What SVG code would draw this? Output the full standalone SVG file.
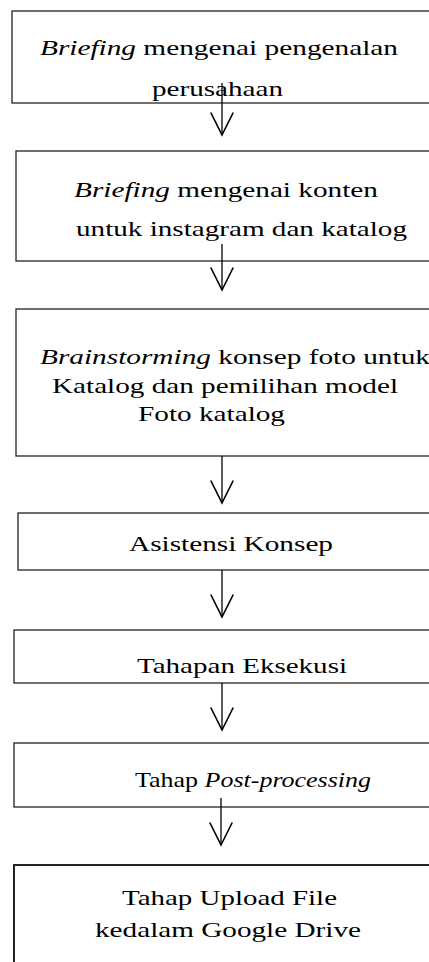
<svg xmlns="http://www.w3.org/2000/svg" width="429" height="962" viewBox="0 0 429 962">
<style>
.box{fill:#fff;stroke:#222;stroke-width:1.3}
.t{font-family:'Liberation Serif','Times New Roman',Times,serif;font-size:22px;fill:#000}
.i{font-style:italic}
.c{stroke:#000;stroke-width:1.3;fill:none}
</style>
<defs>
<marker id="ah" markerUnits="userSpaceOnUse" markerWidth="30" markerHeight="30" refX="0" refY="0" orient="auto" viewBox="-20 -12 22 24" overflow="visible">
<path d="M-18,-9 L0,0 L-18,9" fill="none" stroke="#000" stroke-width="1.3"/>
</marker>
</defs>
<rect width="429" height="962" fill="#fff"/>
<g id="n1">
<rect class="box" x="12" y="11" width="430" height="92"/>
<text class="t" x="40" y="55" textLength="358" lengthAdjust="spacingAndGlyphs"><tspan class="i">Briefing</tspan> mengenai pengenalan</text>
<text class="t" x="152" y="96" textLength="131" lengthAdjust="spacingAndGlyphs">perusahaan</text>
</g>
<g id="n2">
<rect class="box" x="16" y="151" width="430" height="110"/>
<text class="t" x="74" y="197" textLength="304" lengthAdjust="spacingAndGlyphs"><tspan class="i">Briefing</tspan> mengenai konten</text>
<text class="t" x="76" y="236" textLength="331" lengthAdjust="spacingAndGlyphs">untuk instagram dan katalog</text>
</g>
<g id="n3">
<rect class="box" x="16" y="309" width="430" height="147"/>
<text class="t" x="40" y="364" textLength="390" lengthAdjust="spacingAndGlyphs"><tspan class="i">Brainstorming</tspan> konsep foto untuk</text>
<text class="t" x="52" y="393" textLength="346" lengthAdjust="spacingAndGlyphs">Katalog dan pemilihan model</text>
<text class="t" x="138" y="421" textLength="147" lengthAdjust="spacingAndGlyphs">Foto katalog</text>
</g>
<g id="n4">
<rect class="box" x="18" y="513" width="430" height="57"/>
<text class="t" x="129" y="551" textLength="204" lengthAdjust="spacingAndGlyphs">Asistensi Konsep</text>
</g>
<g id="n5">
<rect class="box" x="14" y="630" width="430" height="53"/>
<text class="t" x="137" y="673" textLength="210" lengthAdjust="spacingAndGlyphs">Tahapan Eksekusi</text>
</g>
<g id="n6">
<rect class="box" x="14" y="743" width="430" height="64"/>
<text class="t" x="135" y="787" textLength="236" lengthAdjust="spacingAndGlyphs">Tahap <tspan class="i">Post-processing</tspan></text>
</g>
<g id="n7">
<rect class="box" x="14" y="865" width="430" height="120" style="stroke-width:2"/>
<text class="t" x="122" y="905" textLength="215" lengthAdjust="spacingAndGlyphs">Tahap Upload File</text>
<text class="t" x="95" y="937" textLength="266" lengthAdjust="spacingAndGlyphs">kedalam Google Drive</text>
</g>
<g id="connectors">
<line class="c" x1="222" y1="83" x2="222" y2="135" marker-end="url(#ah)"/>
<line class="c" x1="222" y1="244" x2="222" y2="290" marker-end="url(#ah)"/>
<line class="c" x1="222" y1="456" x2="222" y2="503" marker-end="url(#ah)"/>
<line class="c" x1="222" y1="570" x2="222" y2="617" marker-end="url(#ah)"/>
<line class="c" x1="222" y1="683" x2="222" y2="730" marker-end="url(#ah)"/>
<line class="c" x1="221" y1="798" x2="221" y2="845" marker-end="url(#ah)"/>
</g>
</svg>
